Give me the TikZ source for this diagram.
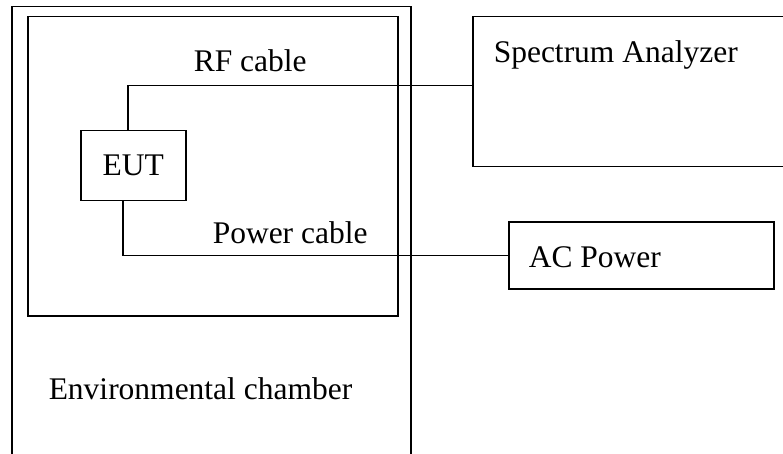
\documentclass[tikz,border=0pt]{standalone}
\usepackage{fontspec}
\setmainfont{Liberation Serif}
\usetikzlibrary{positioning}
\begin{document}
\begin{tikzpicture}[x=1pt,y=-1pt,line width=1.5pt,
    box/.style={draw,rectangle,inner sep=0pt,anchor=north west},
    lbl/.style={anchor=base west,inner sep=0pt,font=\fontsize{31.5}{36}\selectfont}]
    %% Frame
    \path[use as bounding box,clip] (0,0) rectangle (783,454);
    %% Chamber
    \node[box,minimum width=399pt,minimum height=500pt] (chamber) at (11,6) {};
    \node[box,minimum width=370pt,minimum height=299pt] (shelf) at (27,16) {};
    \node[lbl] (chamberlbl) at (48,399) {Environmental chamber};
    %% Equipment
    \node[box,minimum width=105pt,minimum height=70pt,font=\fontsize{31.5}{36}\selectfont] (EUT) at (80,130) {EUT};
    \node[box,minimum width=350pt,minimum height=150pt] (SA) at (472,16) {};
    \node[lbl] (SAlbl) at (493,63) {Spectrum Analyzer};
    \node[box,minimum width=265pt,minimum height=67pt] (ACP) at (508,221) {};
    \node[lbl] (ACPlbl) at (528,267) {AC Power};
    %% Cables
    \draw ([xshift=-5.5pt]EUT.north) |- ([yshift=6pt]SA.west);
    \draw ([xshift=-10.5pt]EUT.south) |- (ACP.west);
    \node[lbl] (rflbl) at (193,72) {RF cable};
    \node[lbl] (pwrlbl) at (212,243) {Power cable};
\end{tikzpicture}
\end{document}
